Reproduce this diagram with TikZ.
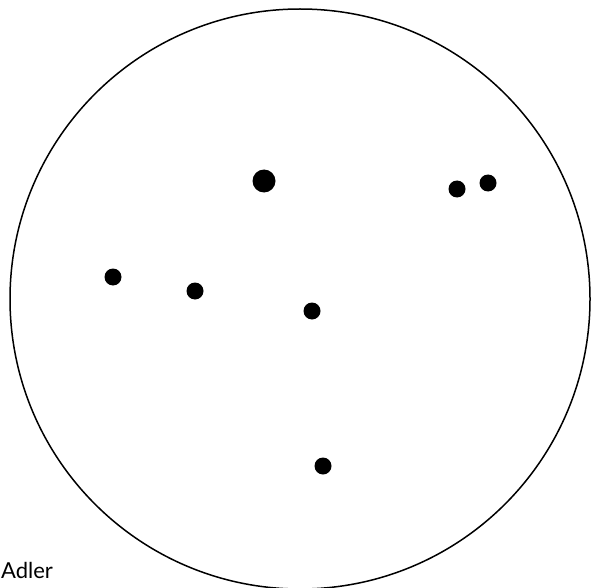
\documentclass[tikz,border=0pt]{standalone}
\usepackage{fontspec}
\setmainfont{Lato}
\usetikzlibrary{positioning}

\begin{document}
\begin{tikzpicture}[x=1pt, y=-1pt,
      plate/.style={draw, circle, line width=1.5pt, minimum size=580pt, inner sep=0pt},
      star/.style={circle, fill=black, inner sep=0pt, minimum size=17pt},
      bigstar/.style={star, minimum size=23pt},
      caption/.style={font=\fontsize{22}{25}\selectfont, anchor=base west, inner sep=0pt}
    ]
      \useasboundingbox (0,0) rectangle (591,588);

      % Field of view
      \node[plate] (plate) at (300,299) {};

      % Stars
      \node[bigstar] (s1) at (264,181) {};
      \node[star] (s2) at (457,189) {};
      \node[star] (s3) at (488,183) {};
      \node[star] (s4) at (113,277) {};
      \node[star] (s5) at (195,291) {};
      \node[star] (s6) at (312,311) {};
      \node[star] (s7) at (323,466) {};

      % Label
      \node[caption] (name) at (1,578) {Adler};
    \end{tikzpicture}
\end{document}
